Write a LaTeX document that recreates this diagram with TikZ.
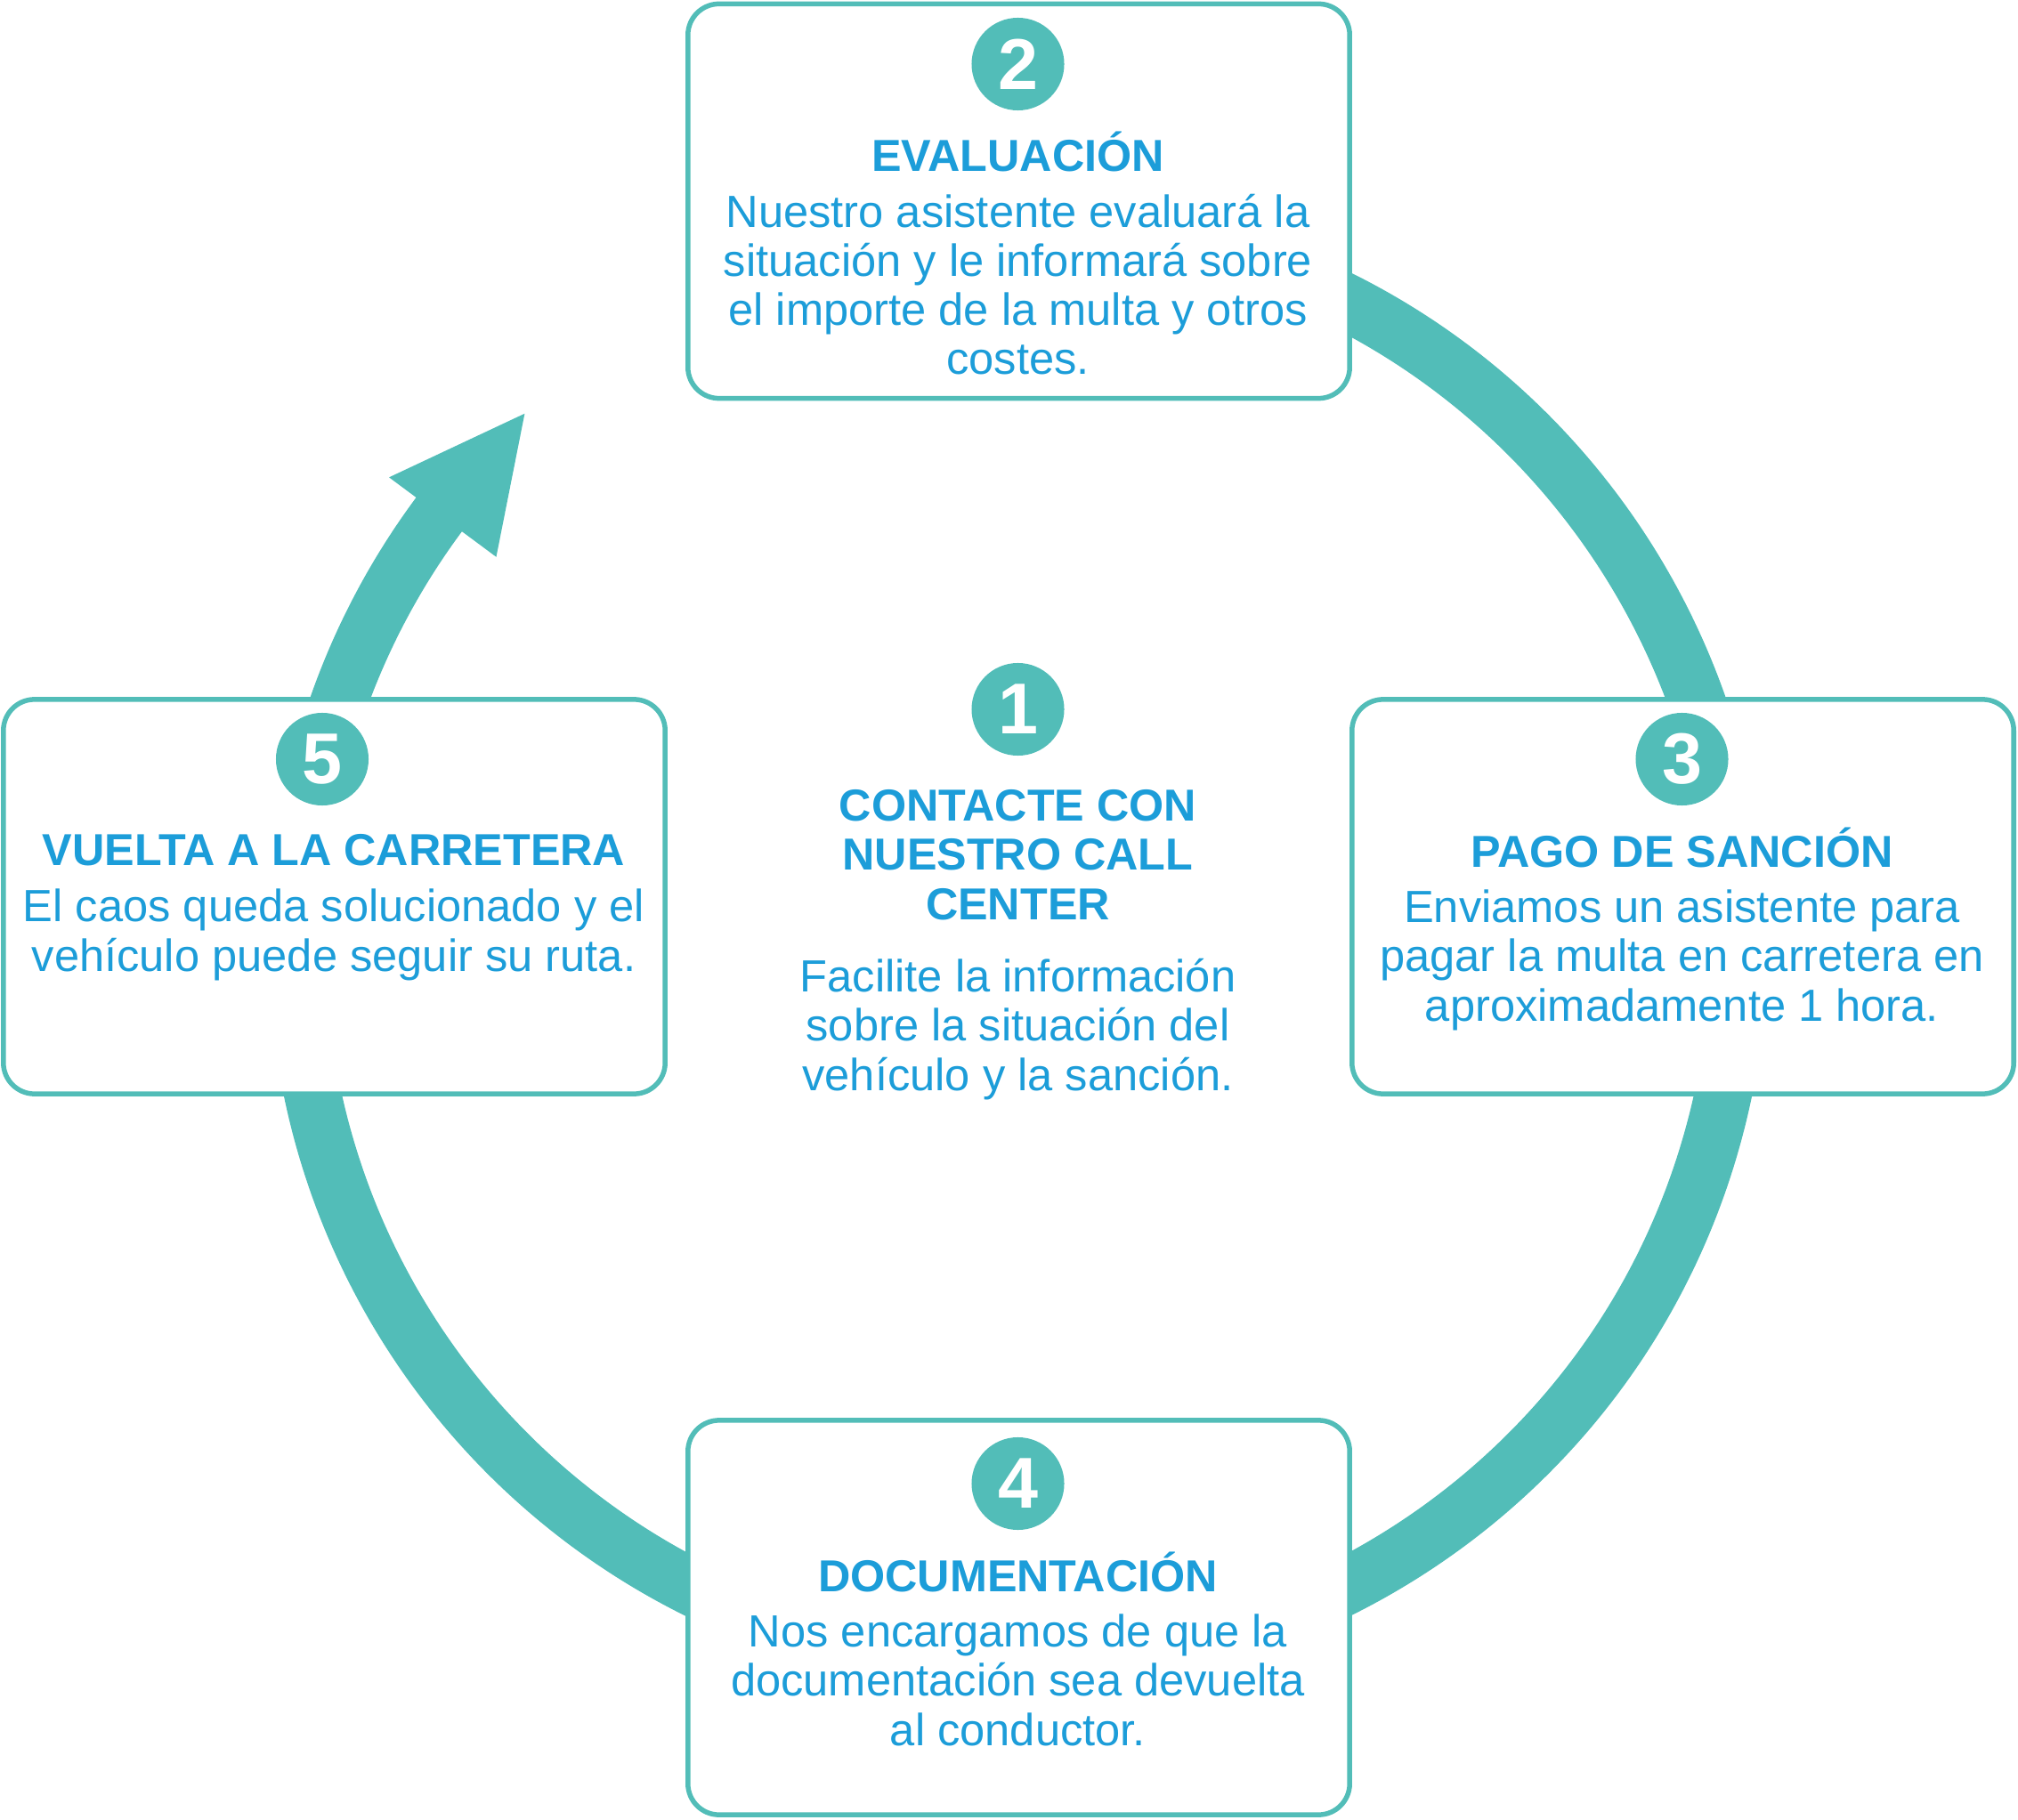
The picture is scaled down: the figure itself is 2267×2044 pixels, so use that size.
\documentclass[tikz,border=0pt]{standalone}
\usepackage{fontspec}
\setmainfont{Liberation Sans}
\definecolor{ringteal}{HTML}{52BDB8}
\definecolor{textblue}{HTML}{1C9DD9}
\tikzset{
  stepbox/.style={draw=ringteal, line width=0.055cm, fill=white, rounded corners=0.35cm,
    minimum width=7.43cm, minimum height=4.43cm, inner sep=0},
  numdot/.style={circle, fill=ringteal, text=white, minimum size=1.04cm, inner sep=0,
    font=\fontsize{23}{23}\selectfont\bfseries},
  steptitle/.style={anchor=base, align=center, inner sep=0, text=textblue,
    font=\fontsize{14.3}{15.65}\selectfont\bfseries},
  steptext/.style={anchor=base, align=center, inner sep=0, text=textblue,
    font=\fontsize{14.4}{15.65}\selectfont},
}
\begin{document}
\begin{tikzpicture}[x=0.01cm, y=0.01cm]
	\useasboundingbox (0,0) rectangle (2267,2044);
	\coordinate (C) at (1143.5,983);
	% ring and arrow
	\draw[ringteal, line width=0.64cm] (C) ++(75:810) arc[start angle=75, end angle=-216.8, radius=810];
	\fill[ringteal, shift={(C)}] (143.4:880) -- (132.9:814) -- (143.4:730) -- cycle;
	% boxes
	\node[stepbox] (b2) at (1144.5,1818) {};
	\node[stepbox] (b3) at (1890.5,1036.5) {};
	\node[stepbox] (b4) at (1144.5,226.5) {};
	\node[stepbox] (b5) at (375.5,1036.5) {};
	% 1 (middle), base = last line
	\node[numdot] (n1) at (1143.5,1247) {1};
	\node[steptitle] (t1) at (1143.5,1011) {CONTACTE CON\\NUESTRO CALL\\CENTER};
	\node[steptext] (d1) at (1143.5,819) {Facilite la información\\sobre la situación del\\vehículo y la sanción.};
	% 2
	\node[numdot] (n2) at (1143.5,1972) {2};
	\node[steptitle] (t2) at (1143.5,1851) {EVALUACIÓN};
	\node[steptext] (d2) at (1143.5,1623) {Nuestro asistente evaluará la\\situación y le informará sobre\\el importe de la multa y otros\\costes.};
	% 3
	\node[numdot] (n3) at (1889.5,1191) {3};
	\node[steptitle] (t3) at (1889.5,1070) {PAGO DE SANCIÓN};
	\node[steptext] (d3) at (1889.5,897) {Enviamos un asistente para\\pagar la multa en carretera en\\aproximadamente 1 hora.};
	% 4
	\node[numdot] (n4) at (1143.5,377) {4};
	\node[steptitle] (t4) at (1143.5,256) {DOCUMENTACIÓN};
	\node[steptext] (d4) at (1143.5,83) {Nos encargamos de que la\\documentación sea devuelta\\al conductor.};
	% 5
	\node[numdot] (n5) at (362,1191) {5};
	\node[steptitle] (t5) at (375,1072) {VUELTA A LA CARRETERA};
	\node[steptext] (d5) at (375,953) {El caos queda solucionado y el\\vehículo puede seguir su ruta.};
\end{tikzpicture}
\end{document}
